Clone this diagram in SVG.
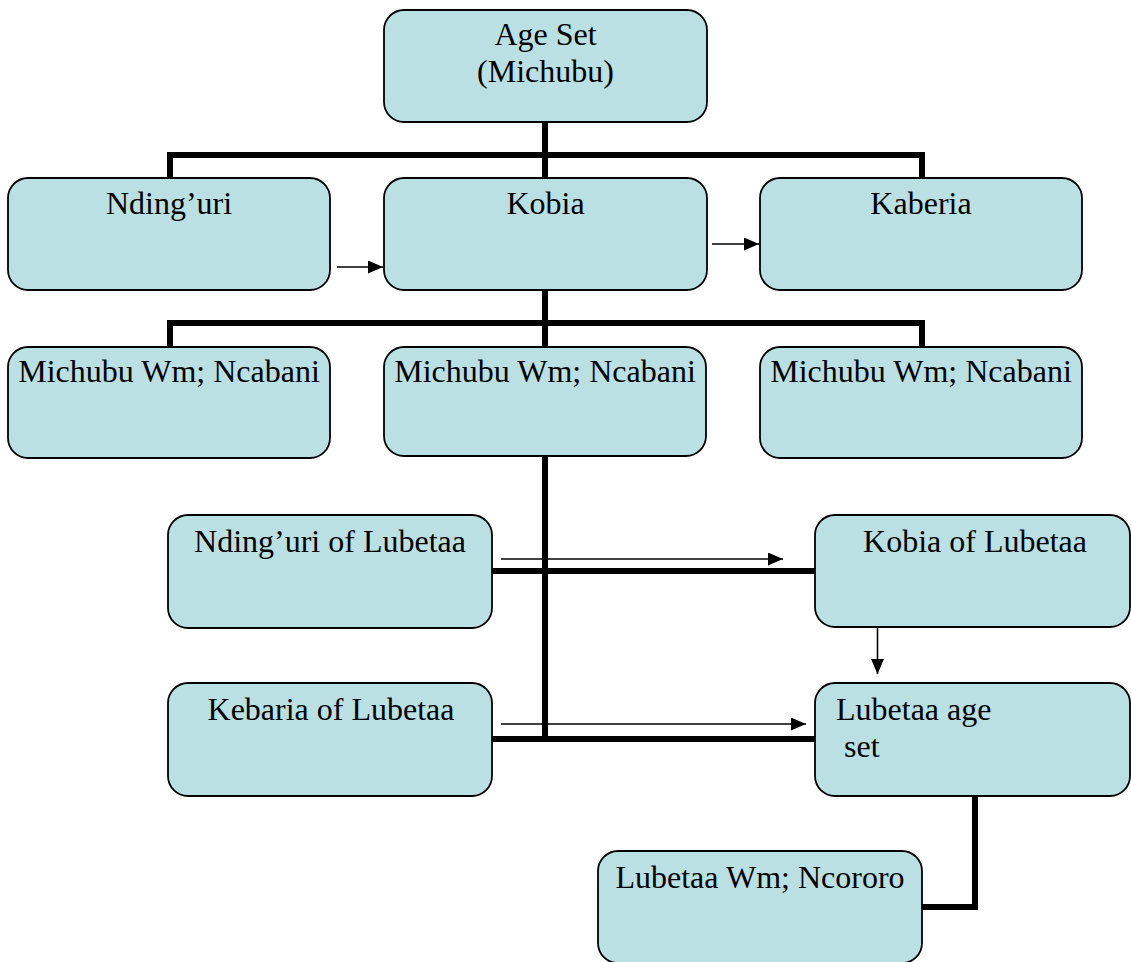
<svg xmlns="http://www.w3.org/2000/svg" width="1131" height="962" viewBox="0 0 1131 962">
<defs>
<style>
.box{fill:#BAE0E3;stroke:#000;stroke-width:1.8}
.t{font-family:'Liberation Serif','Tinos','Times New Roman','DejaVu Serif',serif;font-size:32px;fill:#000}
.m{text-anchor:middle}
.thick{fill:none;stroke:#000;stroke-width:6}
.thin{fill:none;stroke:#000;stroke-width:1.6}
</style>
<marker id="ahb" viewBox="0 0 10 10" refX="10" refY="5" markerWidth="15" markerHeight="13" markerUnits="userSpaceOnUse" orient="auto" preserveAspectRatio="none">
<path d="M0,0 L10,5 L0,10 z" fill="#000"/>
</marker>
</defs>
<rect width="1131" height="962" fill="#fff"/>
<g id="connectors">
<path class="thick" d="M545,122 V178 M170,178 V155 H922 V178"/>
<path class="thick" d="M545,290 V347 M170,347 V323 H922 V347"/>
<path class="thick" d="M545,456 V742"/>
<path class="thick" d="M492,571 H815"/>
<path class="thick" d="M492,739 H815"/>
<path class="thick" d="M975,796 V907 H922"/>
<path class="thin" d="M337,267 H383" marker-end="url(#ahb)"/>
<path class="thin" d="M712,244 H759" marker-end="url(#ahb)"/>
<path class="thin" d="M501,559 H783" marker-end="url(#ahb)"/>
<path class="thin" d="M501,724 H806" marker-end="url(#ahb)"/>
<path class="thin" d="M877.5,627 V674" marker-end="url(#ahb)"/>
</g>
<g font-family="Liberation Serif, serif">
<g id="n-ageset"><rect class="box" x="384" y="10" width="323" height="112" rx="20"/><text class="t m" x="545.5" y="45">Age Set</text><text class="t m" x="545.5" y="82">(Michubu)</text></g>
<g id="n-ndinguri"><rect class="box" x="8" y="178" width="322" height="112" rx="20"/><text class="t m" x="169" y="214">Nding’uri</text></g>
<g id="n-kobia"><rect class="box" x="384" y="178" width="323" height="112" rx="20"/><text class="t m" x="545.5" y="214">Kobia</text></g>
<g id="n-kaberia"><rect class="box" x="760" y="178" width="322" height="112" rx="20"/><text class="t m" x="921" y="214">Kaberia</text></g>
<g id="n-mw1"><rect class="box" x="8" y="347" width="322" height="111" rx="20"/><text class="t m" x="169" y="382">Michubu Wm; Ncabani</text></g>
<g id="n-mw2"><rect class="box" x="384" y="347" width="322" height="109" rx="20"/><text class="t m" x="545" y="382">Michubu Wm; Ncabani</text></g>
<g id="n-mw3"><rect class="box" x="760" y="347" width="322" height="111" rx="20"/><text class="t m" x="921" y="382">Michubu Wm; Ncabani</text></g>
<g id="n-ndinguri-lub"><rect class="box" x="168" y="515" width="324" height="113" rx="20"/><text class="t m" x="330" y="552">Nding’uri of Lubetaa</text></g>
<g id="n-kebaria-lub"><rect class="box" x="168" y="683" width="324" height="113" rx="20"/><text class="t m" x="331" y="720">Kebaria of Lubetaa</text></g>
<g id="n-kobia-lub"><rect class="box" x="815" y="515" width="315" height="112" rx="20"/><text class="t m" x="975" y="552">Kobia of Lubetaa</text></g>
<g id="n-lubetaa"><rect class="box" x="815" y="683" width="315" height="113" rx="20"/><text class="t" x="836" y="720">Lubetaa age</text><text class="t" x="844" y="757">set</text></g>
<g id="n-lubetaa-wm"><rect class="box" x="598" y="851" width="324" height="112" rx="20"/><text class="t m" x="760" y="888">Lubetaa Wm; Ncororo</text></g>
</g>
</svg>
